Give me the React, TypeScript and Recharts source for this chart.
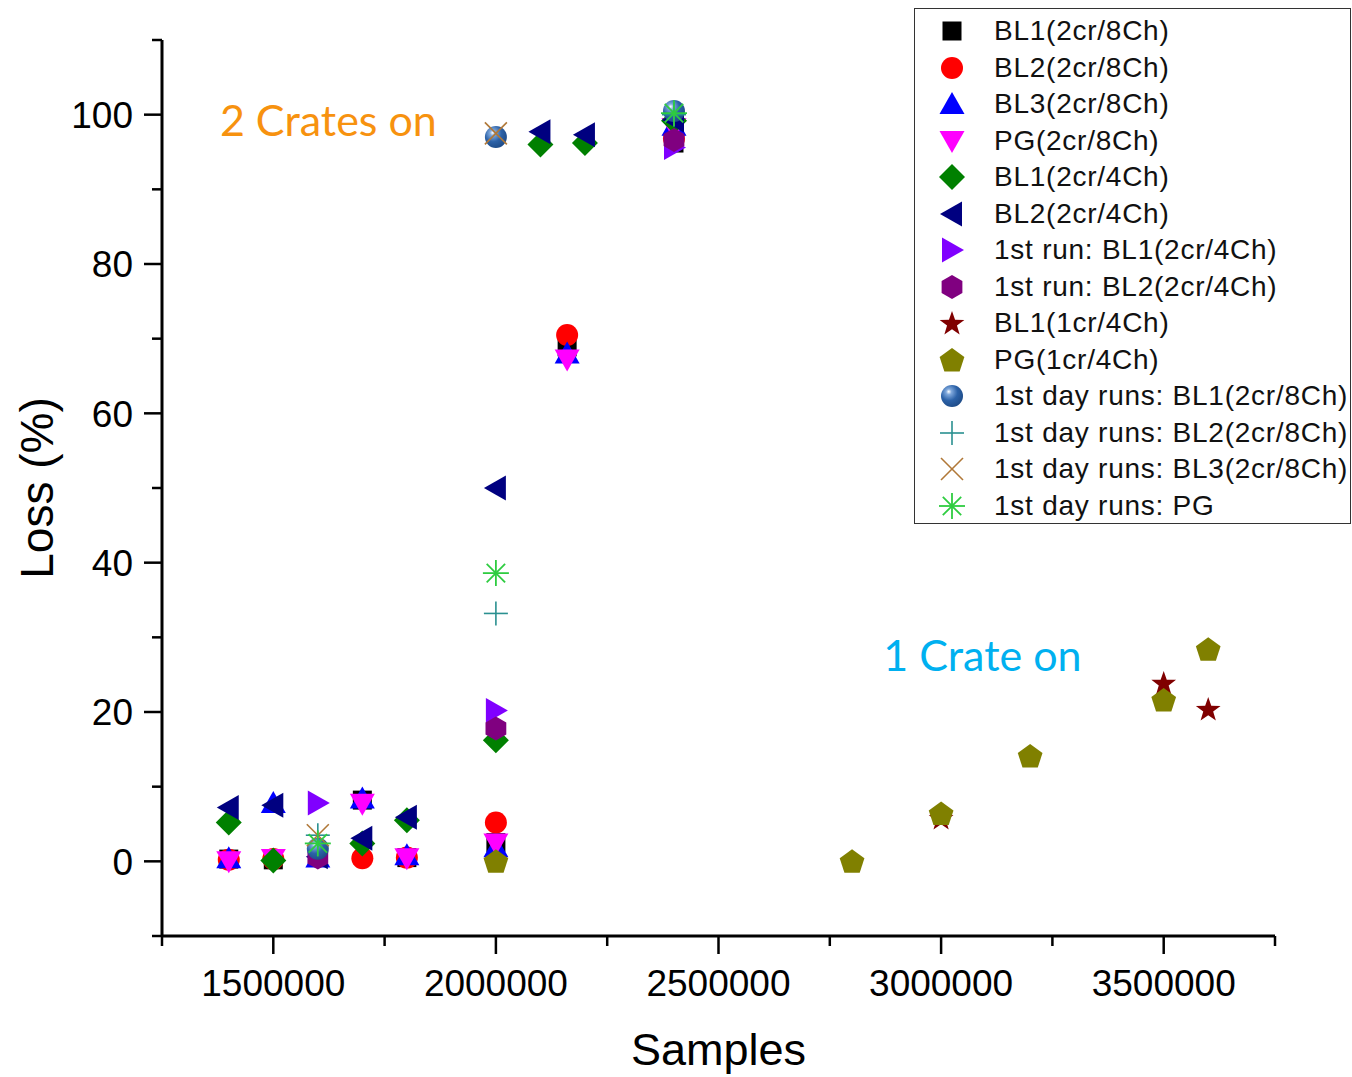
import React from 'react';
import { ScatterChart, Scatter, XAxis, YAxis, Legend, ReferenceDot, Label } from 'recharts';

// ---------- data ----------
const xTicks = [1250000, 1500000, 1750000, 2000000, 2250000, 2500000, 2750000, 3000000, 3250000, 3500000, 3750000];
const xMajor = [1500000, 2000000, 2500000, 3000000, 3500000];
const yTicks = [-10, 0, 10, 20, 30, 40, 50, 60, 70, 80, 90, 100, 110];
const yMajor = [0, 20, 40, 60, 80, 100];

const bl1_8ch = [[1400000, 0.3], [1500000, 0.2], [1700000, 8.2], [1800000, 0.5], [2000000, 2.5], [2160000, 68.9], [2400000, 96.2]];
const bl2_8ch = [[1400000, 0.2], [1500000, 0.3], [1700000, 0.4], [1800000, 0.5], [2000000, 5.2], [2160000, 70.5], [2400000, 96.8]];
const bl3_8ch = [[1400000, 0.4], [1500000, 7.8], [1600000, 0.5], [1700000, 8.4], [1800000, 0.8], [2000000, 1.9], [2160000, 68], [2400000, 98.5]];
const pg_8ch = [[1400000, 0], [1500000, 0.3], [1700000, 7.7], [1800000, 0.4], [2000000, 2.4], [2160000, 67.2], [2400000, 98.2]];
const bl1_4ch = [[1400000, 5.2], [1500000, 0.1], [1700000, 2.4], [1800000, 5.5], [2000000, 16.2], [2100000, 96], [2200000, 96.2], [2400000, 99.2]];
const bl2_4ch = [[1400000, 7.2], [1500000, 7.5], [1600000, 0.6], [1700000, 3.1], [1800000, 5.9], [2000000, 50], [2100000, 97.7], [2200000, 97.3], [2400000, 99.3]];
const run1_bl1_4ch = [[1600000, 7.8], [2000000, 20.2], [2400000, 95.6]];
const run1_bl2_4ch = [[1600000, 0.5], [2000000, 17.8], [2400000, 96.6]];
const bl1_1cr = [[3000000, 5.8], [3500000, 23.9], [3600000, 20.4]];
const pg_1cr = [[2000000, 0], [2800000, 0], [3000000, 6.4], [3200000, 14.1], [3500000, 21.6], [3600000, 28.4]];
const day1_bl1 = [[1600000, 1.7], [2000000, 97], [2400000, 100.5]];
const day1_bl2 = [[1600000, 3.5], [2000000, 33.2], [2400000, 100]];
const day1_bl3 = [[1600000, 3.5], [2000000, 97.5]];
const day1_pg = [[1600000, 2.4], [2000000, 38.6], [2400000, 100.2]];

const seriesNames = [
  'BL1(2cr/8Ch)', 'BL2(2cr/8Ch)', 'BL3(2cr/8Ch)', 'PG(2cr/8Ch)', 'BL1(2cr/4Ch)', 'BL2(2cr/4Ch)',
  '1st run: BL1(2cr/4Ch)', '1st run: BL2(2cr/4Ch)', 'BL1(1cr/4Ch)', 'PG(1cr/4Ch)',
  '1st day runs: BL1(2cr/8Ch)', '1st day runs: BL2(2cr/8Ch)', '1st day runs: BL3(2cr/8Ch)', '1st day runs: PG',
];
const seriesData = [bl1_8ch, bl2_8ch, bl3_8ch, pg_8ch, bl1_4ch, bl2_4ch, run1_bl1_4ch, run1_bl2_4ch, bl1_1cr, pg_1cr, day1_bl1, day1_bl2, day1_bl3, day1_pg];
const seriesShapes = ['square', 'circle', 'up', 'down', 'diamond', 'left', 'right', 'hexagon', 'star', 'pentagon', 'sphere', 'plus', 'cross', 'asterisk'];
const seriesColors = ['#000000', '#FF0000', '#0000FF', '#FF00FF', '#008000', '#000080', '#8000FF', '#800080', '#800000', '#808000', '#2C62A8', '#2A9090', '#B07838', '#2ECC40'];

const annotations = [
  { text: '2 Crates on', x: 1380000, y: 99.2, color: '#F7920F' },
  { text: '1 Crate on', x: 2870000, y: 27.5, color: '#00B0F0' },
];

// ---------- markers ----------
const poly = (pts: number[][]) => pts.map((p) => p[0].toFixed(2) + ',' + p[1].toFixed(2)).join(' ');

function regular(cx: number, cy: number, n: number, r: number, rot: number) {
  const pts: number[][] = [];
  for (let i = 0; i < n; i++) {
    const a = rot + (i * 2 * Math.PI) / n;
    pts.push([cx + r * Math.cos(a), cy + r * Math.sin(a)]);
  }
  return pts;
}

function marker(kind: string, cx: number, cy: number, color: string) {
  switch (kind) {
    case 'square':
      return <rect x={cx - 9.5} y={cy - 9.5} width={19} height={19} fill={color} />;
    case 'circle':
      return <circle cx={cx} cy={cy} r={11} fill={color} />;
    case 'up':
      return <polygon points={poly([[cx, cy - 12], [cx + 12.5, cy + 10], [cx - 12.5, cy + 10]])} fill={color} />;
    case 'down':
      return <polygon points={poly([[cx, cy + 12], [cx + 12.5, cy - 10], [cx - 12.5, cy - 10]])} fill={color} />;
    case 'diamond':
      return <polygon points={poly([[cx, cy - 13], [cx + 13, cy], [cx, cy + 13], [cx - 13, cy]])} fill={color} />;
    case 'left':
      return <polygon points={poly([[cx - 12, cy], [cx + 10, cy - 12.5], [cx + 10, cy + 12.5]])} fill={color} />;
    case 'right':
      return <polygon points={poly([[cx + 12, cy], [cx - 10, cy - 12.5], [cx - 10, cy + 12.5]])} fill={color} />;
    case 'hexagon':
      return <polygon points={poly(regular(cx, cy, 6, 12, -Math.PI / 2))} fill={color} />;
    case 'pentagon':
      return <polygon points={poly(regular(cx, cy + 1, 5, 13, -Math.PI / 2))} fill={color} />;
    case 'star': {
      const pts: number[][] = [];
      for (let i = 0; i < 10; i++) {
        const r = i % 2 === 0 ? 13 : 5.2;
        const a = -Math.PI / 2 + (i * Math.PI) / 5;
        pts.push([cx + r * Math.cos(a), cy + 1 + r * Math.sin(a)]);
      }
      return <polygon points={poly(pts)} fill={color} />;
    }
    case 'sphere':
      return <circle cx={cx} cy={cy} r={11} fill="url(#sphereGrad)" />;
    case 'plus':
      return (
        <g stroke={color} strokeWidth={1.6}>
          <line x1={cx - 12} y1={cy} x2={cx + 12} y2={cy} />
          <line x1={cx} y1={cy - 12} x2={cx} y2={cy + 12} />
        </g>
      );
    case 'cross':
      return (
        <g stroke={color} strokeWidth={1.6}>
          <line x1={cx - 11} y1={cy - 11} x2={cx + 11} y2={cy + 11} />
          <line x1={cx - 11} y1={cy + 11} x2={cx + 11} y2={cy - 11} />
        </g>
      );
    case 'asterisk':
      return (
        <g stroke={color} strokeWidth={1.8}>
          <line x1={cx - 13} y1={cy} x2={cx + 13} y2={cy} />
          <line x1={cx} y1={cy - 13} x2={cx} y2={cy + 13} />
          <line x1={cx - 9.2} y1={cy - 9.2} x2={cx + 9.2} y2={cy + 9.2} />
          <line x1={cx - 9.2} y1={cy + 9.2} x2={cx + 9.2} y2={cy - 9.2} />
        </g>
      );
    default:
      return null;
  }
}

// ---------- ticks ----------
const YTick = (props: any) => {
  const { x, y, payload } = props;
  const major = yMajor.includes(payload.value);
  const len = major ? 18 : 10;
  return (
    <g>
      <line x1={x} y1={y} x2={x - len} y2={y} stroke="#000" strokeWidth={2.5} />
      {major && (
        <text x={x - 29} y={y} dy="0.36em" textAnchor="end" fontFamily="'Liberation Sans', Arial, sans-serif" fontSize={37} fill="#000">
          {payload.value}
        </text>
      )}
    </g>
  );
};

const XTick = (props: any) => {
  const { x, y, payload } = props;
  const major = xMajor.includes(payload.value);
  const len = major ? 18 : 10;
  return (
    <g>
      <line x1={x} y1={y} x2={x} y2={y + len} stroke="#000" strokeWidth={2.5} />
      {major && (
        <text x={x} y={y + 47} dy="0.36em" textAnchor="middle" fontFamily="'Liberation Sans', Arial, sans-serif" fontSize={37} fill="#000">
          {payload.value}
        </text>
      )}
    </g>
  );
};

// ---------- legend ----------
const LegendBox = () => (
  <div
    style={{
      width: 437,
      height: 516,
      boxSizing: 'border-box',
      border: '1.5px solid #333',
      background: '#fff',
      paddingTop: 4,
    }}
  >
    {seriesNames.map((name, i) => (
      <div key={name} style={{ height: 36.5, display: 'flex', alignItems: 'center' }}>
        <svg width={70} height={36} style={{ flex: 'none', marginLeft: 2 }}>
          {marker(seriesShapes[i], 35, 18, seriesColors[i])}
        </svg>
        <span
          style={{
            marginLeft: 7,
            fontFamily: "'Liberation Sans', Arial, sans-serif",
            fontSize: 28,
            letterSpacing: 0.75,
            color: '#111',
            whiteSpace: 'nowrap',
          }}
        >
          {name}
        </span>
      </div>
    ))}
  </div>
);

const toPoints = (arr: number[][]) => arr.map((p) => ({ x: p[0], y: p[1] }));

export default function App() {
  return (
    <div style={{ position: 'absolute', left: 0, top: 0, width: 1352, height: 1077, background: '#fff' }}>
      <svg width={0} height={0} style={{ position: 'absolute' }}>
        <defs>
          <radialGradient id="sphereGrad" cx="38%" cy="35%" r="70%" fx="35%" fy="30%">
            <stop offset="0%" stopColor="#ffffff" />
            <stop offset="18%" stopColor="#7fa8dc" />
            <stop offset="55%" stopColor="#2c62a8" />
            <stop offset="100%" stopColor="#1d4a86" />
          </radialGradient>
        </defs>
      </svg>
      <ScatterChart width={1352} height={1077} margin={{ top: 40, right: 77, bottom: 0, left: 0 }}>
        <XAxis
          type="number"
          dataKey="x"
          domain={[1250000, 3750000]}
          ticks={xTicks}
          interval={0}
          allowDataOverflow
          height={141}
          tickSize={0}
          tickMargin={0}
          tickLine={false}
          axisLine={{ stroke: '#000', strokeWidth: 3 }}
          tick={<XTick />}
        >
          <Label
            content={(p: any) => {
              const vb = p.viewBox;
              return (
                <text x={vb.x + vb.width / 2} y={vb.y + 113} dy="0.36em" textAnchor="middle" fontFamily="'Liberation Sans', Arial, sans-serif" fontSize={45} fill="#000">
                  Samples
                </text>
              );
            }}
          />
        </XAxis>
        <YAxis
          type="number"
          dataKey="y"
          domain={[-10, 110]}
          ticks={yTicks}
          interval={0}
          allowDataOverflow
          width={162}
          tickSize={0}
          tickMargin={0}
          tickLine={false}
          axisLine={{ stroke: '#000', strokeWidth: 3 }}
          tick={<YTick />}
        >
          <Label
            content={(p: any) => {
              const vb = p.viewBox;
              const cx = vb.x + 36;
              const cy = vb.y + vb.height / 2;
              return (
                <text x={cx} y={cy} dy="0.36em" textAnchor="middle" transform={`rotate(-90 ${cx} ${cy})`} fontFamily="'Liberation Sans', Arial, sans-serif" fontSize={46} fill="#000">
                  Loss (%)
                </text>
              );
            }}
          />
        </YAxis>
        <Legend
          layout="vertical"
          align="center"
          verticalAlign="middle"
          wrapperStyle={{ position: 'absolute', left: 914, top: 8, width: 437, height: 516 }}
          content={() => <LegendBox />}
        />
        {seriesData.map((d, i) => (
          <Scatter
            key={seriesNames[i]}
            name={seriesNames[i]}
            data={toPoints(d)}
            fill={seriesColors[i]}
            isAnimationActive={false}
            shape={(p: any) => marker(seriesShapes[i], p.cx, p.cy, seriesColors[i])}
          />
        ))}
        {annotations.map((a) => (
          <ReferenceDot
            key={a.text}
            x={a.x}
            y={a.y}
            r={0}
            fill="none"
            stroke="none"
            label={(p: any) => {
              const vb = p.viewBox;
              return (
                <text x={vb.x} y={vb.y} dy="0.36em" textAnchor="start" fontFamily="Lato, 'Open Sans', sans-serif" fontSize={43} fill={a.color}>
                  {a.text}
                </text>
              );
            }}
          />
        ))}
      </ScatterChart>
    </div>
  );
}
